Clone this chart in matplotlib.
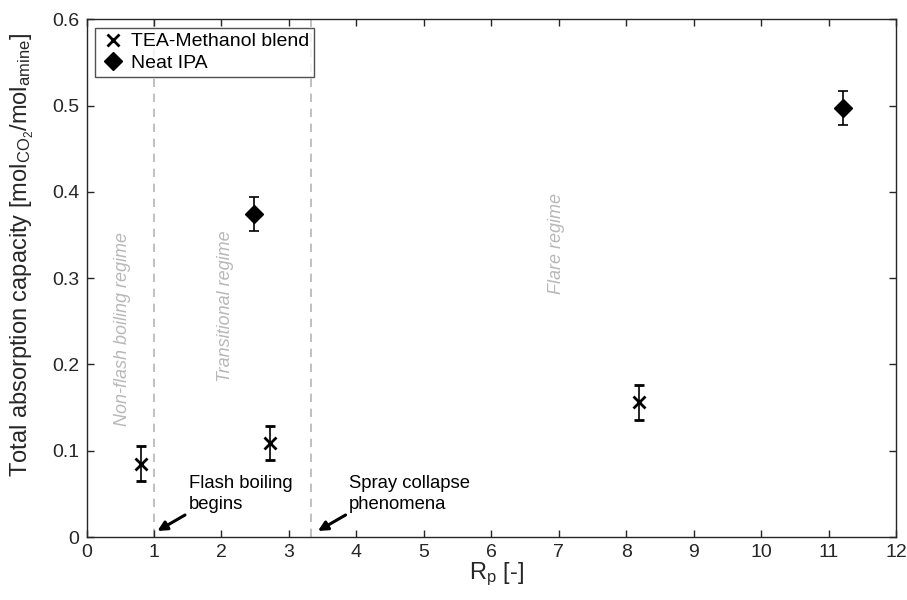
import matplotlib
matplotlib.use("Agg")
import matplotlib.pyplot as plt
from matplotlib.lines import Line2D

plt.rcParams['font.family'] = ['Liberation Sans', 'DejaVu Sans']
plt.rcParams['mathtext.fontset'] = 'custom'
plt.rcParams['mathtext.rm'] = 'Liberation Sans'
plt.rcParams['mathtext.it'] = 'Liberation Sans:italic'

tea_x = [0.81, 2.72, 8.19]
tea_y = [0.085, 0.109, 0.156]
tea_err = [0.02, 0.02, 0.02]
ipa_x = [2.48, 11.22]
ipa_y = [0.374, 0.497]
ipa_err = [0.02, 0.02]
regime_lines = [1.0, 3.33]
xticks = list(range(0, 13))
yticks = [0, 0.1, 0.2, 0.3, 0.4, 0.5, 0.6]

fig = plt.figure(figsize=(9.07, 6.0), dpi=100)
ax = fig.add_axes([0.0954, 0.105, 0.8925, 0.863])

for xv in regime_lines:
    ax.axvline(xv, color='#b5b5b5', linestyle=(0, (5, 4)), linewidth=1.2, zorder=1)

ax.errorbar(tea_x, tea_y, yerr=tea_err, fmt='x', color='black', markersize=9,
            markeredgewidth=2, capsize=3.5, elinewidth=1.2, capthick=1.2, zorder=3)
ax.errorbar(ipa_x, ipa_y, yerr=ipa_err, fmt='D', color='black', markersize=9,
            capsize=3.5, elinewidth=1.2, capthick=1.2, zorder=3)

gray = '#b8b8b8'
ax.text(0.53, 0.241, 'Non-flash boiling regime', rotation=90, style='italic',
        color=gray, fontsize=13, ha='center', va='center')
ax.text(2.06, 0.268, 'Transitional regime', rotation=90, style='italic',
        color=gray, fontsize=13, ha='center', va='center')
ax.text(6.96, 0.34, 'Flare regime', rotation=90, style='italic',
        color=gray, fontsize=13, ha='center', va='center')

ax.annotate('', xy=(1.05, 0.007), xytext=(1.46, 0.0255),
            arrowprops=dict(arrowstyle='-|>', color='black', lw=2.2,
                            mutation_scale=14, shrinkA=0, shrinkB=0))
ax.annotate('', xy=(3.43, 0.007), xytext=(3.84, 0.0255),
            arrowprops=dict(arrowstyle='-|>', color='black', lw=2.2,
                            mutation_scale=14, shrinkA=0, shrinkB=0))
ax.text(1.52, 0.0715, 'Flash boiling\nbegins', fontsize=13.3, ha='left', va='top',
        linespacing=1.25)
ax.text(3.89, 0.0715, 'Spray collapse\nphenomena', fontsize=13.3, ha='left', va='top',
        linespacing=1.25)

ax.set_xlim(0, 12)
ax.set_ylim(0, 0.6)
ax.set_xticks(xticks)
ax.set_yticks(yticks)
ax.set_yticklabels(['0', '0.1', '0.2', '0.3', '0.4', '0.5', '0.6'])
ax.tick_params(direction='in', top=True, right=True, labelsize=14, length=5,
               width=1, colors='#262626', pad=5)
for s in ax.spines.values():
    s.set_linewidth(1.0)
    s.set_color('#262626')

ax.set_xlabel(r'R$_{\mathrm{p}}$ [-]', fontsize=17, color='#262626', labelpad=3)
ax.set_ylabel(r'Total absorption capacity [mol$_{\mathrm{CO}_{2}}$/mol$_{\mathrm{amine}}$]',
              fontsize=17, color='#262626')
ax.xaxis.set_label_coords(0.507, -0.045)
ax.yaxis.set_label_coords(-0.062, 0.545)

handles = [Line2D([], [], marker='x', color='black', linestyle='none', markersize=8,
                  markeredgewidth=2),
           Line2D([], [], marker='D', color='black', linestyle='none', markersize=9)]
leg = ax.legend(handles, ['TEA-Methanol blend', 'Neat IPA'], loc='upper left',
                fontsize=14, frameon=True, fancybox=False,
                edgecolor='#262626', borderaxespad=0.45, handletextpad=0.3,
                handlelength=1.3, borderpad=0.25, labelspacing=0.2)
leg.get_frame().set_linewidth(1.0)

fig.savefig('out.png', dpi=100)
